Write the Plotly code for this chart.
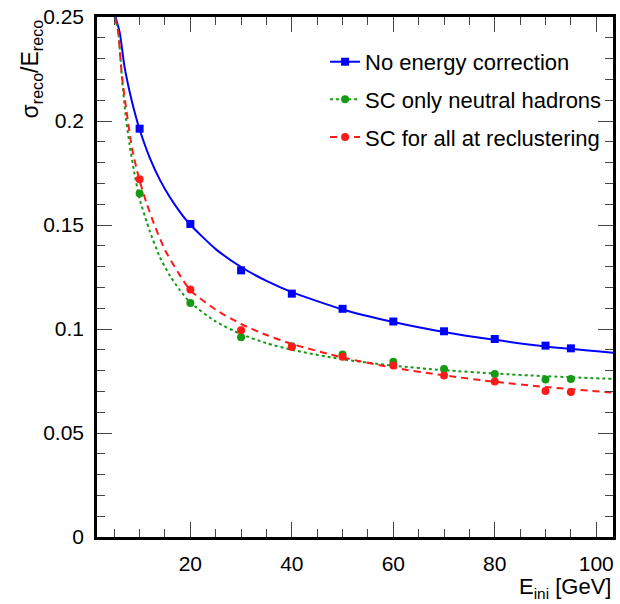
import plotly.graph_objects as go

# ---- data ----
E_points = [10, 20, 30, 40, 50, 60, 70, 80, 90, 95]
no_corr_pts = [0.1963, 0.1505, 0.1282, 0.1170, 0.1097, 0.1036, 0.0989, 0.0952, 0.0920, 0.0907]
sc_neutral_pts = [0.1651, 0.1125, 0.0960, 0.0917, 0.0878, 0.0843, 0.0808, 0.0784, 0.0757, 0.0760]
sc_all_pts = [0.1720, 0.1190, 0.0994, 0.0913, 0.0867, 0.0824, 0.0777, 0.0747, 0.0702, 0.0697]

# fitted curves
E_fit_blue = [5.24, 6.08, 7, 8, 9, 10, 12, 14, 16, 18, 20, 25, 30, 35, 40, 50, 60, 70, 80, 90, 103.3]
no_corr_fit = [0.2500, 0.2425, 0.2264, 0.2144, 0.2044, 0.1959, 0.1823, 0.1717, 0.1632, 0.1561,
               0.1501, 0.1384, 0.1298, 0.1231, 0.1177, 0.1094, 0.1034, 0.0986, 0.0948, 0.0916, 0.0886]

E_fit_green = [5.1, 5.75, 6.5, 7.3, 8, 9, 10, 11.4, 12, 14, 16, 18, 20, 25, 30, 35, 40, 50, 60, 70, 80, 90, 103.3]
sc_neutral_fit = [0.2500, 0.2436, 0.2210, 0.2015, 0.1890, 0.1745, 0.1625, 0.1515, 0.1470, 0.1345,
                  0.1255, 0.1185, 0.1127, 0.1036, 0.0975, 0.0932, 0.0900, 0.0854, 0.0824, 0.0802,
                  0.0786, 0.0773, 0.0760]

E_fit_red = [5.1, 5.75, 6.5, 7.4, 8.5, 9.86, 11.3, 13, 15, 17.5, 20, 25, 30, 35, 40, 50, 60, 70, 80, 90, 103.3]
sc_all_fit = [0.2500, 0.2430, 0.2220, 0.2050, 0.1870, 0.1725, 0.1610, 0.1495, 0.1380, 0.1275,
              0.1186, 0.1093, 0.1024, 0.0971, 0.0928, 0.0863, 0.0814, 0.0777, 0.0746, 0.0721, 0.0694]

names = ["No energy correction", "SC only neutral hadrons", "SC for all at reclustering"]
x_ticks = [20, 40, 60, 80, 100]
y_ticks = [0, 0.05, 0.1, 0.15, 0.2, 0.25]
y_ticktext = ["0", "0.05", "0.1", "0.15", "0.2", "0.25"]

BLUE = "#0000ff"
GREEN = "#159a15"
RED = "#ff1a1a"
FONT = "Liberation Sans, Arial, Helvetica, sans-serif"

fig = go.Figure()

series = [
    (names[0], E_fit_blue, no_corr_fit, no_corr_pts, BLUE, "solid", "square", 8),
    (names[1], E_fit_green, sc_neutral_fit, sc_neutral_pts, GREEN, "dot", "circle", 8),
    (names[2], E_fit_red, sc_all_fit, sc_all_pts, RED, "7px,5px", "circle", 8),
]

for i, (nm, ex, ey, py, col, dash, sym, msz) in enumerate(series):
    fig.add_trace(go.Scatter(x=ex, y=ey, mode="lines", line=dict(color=col, width=2, dash=dash, shape="spline", smoothing=0.6),
                             showlegend=False, hoverinfo="skip"))
    fig.add_trace(go.Scatter(x=E_points, y=py, mode="markers",
                             marker=dict(color=col, size=msz, symbol=sym, line=dict(width=0)),
                             showlegend=False))
    # legend entry
    fig.add_trace(go.Scatter(x=[None], y=[None], mode="lines+markers", name=nm, legendgroup=f"g{i}",
                             line=dict(color=col, width=2, dash=dash),
                             marker=dict(color=col, size=msz, symbol=sym, line=dict(width=0))))

axis_common = dict(
    showline=True, linecolor="black", linewidth=2.5, mirror="allticks",
    ticks="inside", tickcolor="#444", tickwidth=1, ticklen=15,
    showgrid=False, zeroline=False,
    tickfont=dict(family=FONT, size=21, color="black"),
)

fig.update_xaxes(range=[1.6, 103.3], tickvals=x_ticks, ticklabelstandoff=6,
                 minor=dict(ticks="inside", dtick=5, tick0=0, ticklen=8, tickcolor="#444", tickwidth=1, showgrid=False),
                 **axis_common)
fig.update_yaxes(range=[0, 0.25], tickvals=y_ticks, ticktext=y_ticktext, ticklabelstandoff=6,
                 minor=dict(ticks="inside", dtick=0.01, tick0=0, ticklen=8, tickcolor="#444", tickwidth=1, showgrid=False),
                 **axis_common)

fig.add_annotation(text="σ<sub>reco</sub>/E<sub>reco</sub>", textangle=-90, xref="paper", yref="paper",
                   x=-0.1252, y=0.9, xanchor="center", yanchor="middle", showarrow=False,
                   font=dict(family=FONT, size=23, color="black"))
fig.add_annotation(text="E<sub>ini</sub> [GeV]", xref="paper", yref="paper",
                   x=1.0, y=-0.098, xanchor="right", yanchor="middle", showarrow=False,
                   font=dict(family=FONT, size=22, color="black"))

fig.update_layout(
    width=620, height=604,
    margin=dict(l=97, r=4, t=17, b=67),
    paper_bgcolor="white", plot_bgcolor="white",
    font=dict(family=FONT, color="black"),
    legend=dict(x=0.442, y=0.954, xanchor="left", yanchor="top", bgcolor="rgba(0,0,0,0)",
                font=dict(family=FONT, size=22, color="black"), tracegroupgap=6, itemwidth=30),
    showlegend=True,
)

fig.write_html("out.html", config={"displayModeBar": False},
               post_script="document.body.style.margin='0';document.body.style.padding='0';document.body.style.overflow='hidden';")
